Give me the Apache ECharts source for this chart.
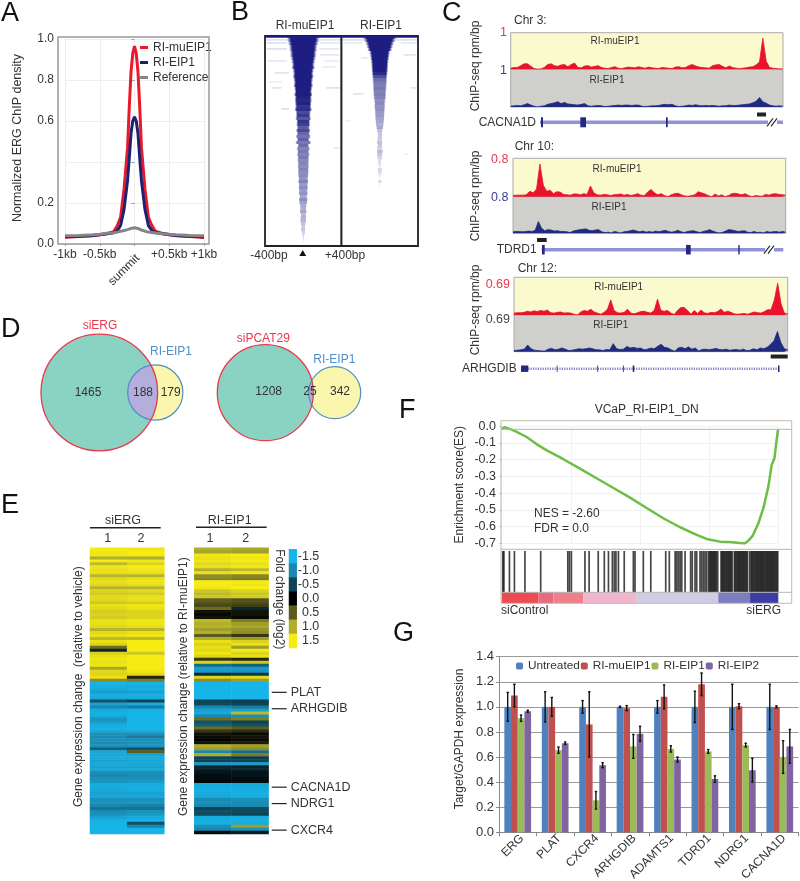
<!DOCTYPE html>
<html><head><meta charset="utf-8">
<style>html,body{margin:0;padding:0;background:#fff}#c{width:800px;height:881px;filter:blur(.35px)}</style>
<script src="https://cdn.jsdelivr.net/npm/echarts@6/dist/echarts.min.js"></script>
</head><body><div id="c"></div>
<script>
// ---------- Panel A
const aX=[-1,-.8,-.6,-.5,-.4,-.3,-.25,-.2,-.15,-.1,-.075,-.05,-.025,0,.025,.05,.075,.1,.15,.2,.25,.3,.4,.5,.6,.8,1];
const aMu=[.033,.036,.04,.045,.05,.06,.088,.13,.27,.47,.67,.84,.93,.965,.93,.84,.67,.47,.27,.13,.09,.062,.052,.046,.04,.036,.032];
const aEip=[.035,.038,.042,.045,.05,.055,.064,.09,.17,.31,.42,.54,.6,.62,.6,.54,.42,.31,.17,.09,.066,.056,.05,.045,.042,.038,.035];
const aRef=[.04,.042,.045,.048,.052,.055,.058,.062,.066,.07,.074,.076,.078,.079,.078,.076,.073,.068,.063,.058,.056,.054,.05,.047,.045,.042,.04];
const aYLabels=[0,.2,.6,.8,1];
const aXLabels={'-1':'-1kb','-0.5':'-0.5kb','0':'','0.5':'+0.5kb','1':'+1kb'};
// ---------- Panel B: per-row half width (bp) and density
const bMuHW=[172,168,160,150,148,140,140,132,126,120,124,112,108,112,104,100,104,96,92,98,90,92,88,86,92,80,78,84,72,74,68,76,70,80,66,84,60,72,64,70,62,64,60,62,58,60,56,52,56,50,52,48,50,42,48,46,36,34,38,30,32,34,26,22,24,18,14,8,4,2];
const bMuD=[1,1,1,1,1,1,1,1,1,1,1,1,1,1,1,1,1,1,1,1,.98,.95,.98,.9,.92,.8,.88,.75,.9,.85,.72,.8,.68,.62,.7,.6,.65,.55,.6,.55,.6,.52,.55,.5,.55,.5,.52,.48,.55,.45,.5,.45,.48,.4,.5,.42,.38,.36,.4,.32,.35,.32,.28,.25,.25,.2,.16,.14,.1,.08];
const bEipHW=[180,165,150,140,130,110,105,100,95,92,90,88,85,82,80,78,76,74,72,70,68,62,58,60,56,54,52,50,48,44,38,30,26,24,28,30,26,30,34,30,28,20,18,10,26,22,10,6,24,6,4];
const bEipD=[1,1,1,1,1,1,1,1,1,1,1,1,.95,.8,.65,.6,.58,.6,.55,.58,.55,.5,.52,.48,.5,.45,.45,.42,.4,.35,.4,.3,.25,.25,.22,.28,.25,.2,.3,.25,.2,.15,.15,.12,.18,.15,.12,.1,.14,.1,.08];
const bMuStray=[[0,-400,400,1],[1,-400,400,.12],[2,-380,-170,.13],[2,170,390,.1],[4,-380,-170,.14],[4,165,380,.1],[6,175,375,.1],[8,-370,-170,.1],[8,220,370,.09],[12,-300,-150,.12],[17,-325,-230,.13],[17,240,385,.13],[24,-230,-150,.14],[37,320,385,.1],[10,200,350,.08],[15,-360,-220,.07]];
const bEipStray=[[0,-400,400,1],[1,-400,400,.13],[2,-370,-180,.09],[2,220,390,.1],[6,250,375,.12],[7,-190,-110,.09],[17,320,390,.1],[19,-280,-170,.12],[28,-360,-300,.07],[39,260,290,.07]];
// ---------- Panel C tracks (fraction of the scale)
const t1Mu=[.03,.05,.05,.1,.15,.15,.08,.02,0,.01,.05,.13,.15,.1,.08,.12,.13,.07,.13,.17,.05,.04,.09,.1,.06,.08,.1,.05,.03,.02,.05,.07,.03,.02,.04,.06,.05,.04,.07,.05,.03,.06,.04,.03,.02,.05,.04,.03,.02,.06,.07,.04,.05,.1,.13,.09,.06,.05,.04,.03,.1,.12,.13,.08,.04,.09,.05,.03,.02,.03,.04,.06,.07,.12,.2,.85,.22,.05,.03,.02,.01,.01];
const t1Eip=[.02,.03,.04,.03,.06,.09,.05,.02,0,.02,.03,.07,.09,.11,.14,.09,.12,.08,.07,.06,.05,.07,.09,.03,.02,.03,.04,.03,.01,.02,.03,.04,.05,.04,.05,.05,.04,.05,.05,.02,.01,.02,.03,.03,.04,.06,.07,.06,.07,.03,.01,.02,.03,.05,.04,.06,.04,.03,.04,.03,.04,.03,.02,.03,.03,.05,.04,.04,.05,.06,.07,.08,.11,.15,.25,.14,.1,.05,.03,.02,.03,.02];
const t2Mu=[.03,.04,.04,.04,.05,.14,.1,.2,.85,.3,.14,.17,.08,.13,.12,.06,.05,.04,.07,.07,.05,.08,.06,.28,.1,.05,.04,.06,.05,.03,.05,.06,.07,.04,.06,.03,.05,.08,.04,.03,.12,.19,.1,.05,.08,.03,0,.05,.08,.09,.05,.02,.01,.03,.05,.13,.1,.07,.03,0,.07,.02,.05,0,.03,.08,.09,.07,.05,.08,.03,0,.03,.02,.01,.06,.04,.07,.08,.06,.05,.04];
const t2Eip=[.04,.05,.05,.04,.05,.06,.05,.08,.32,.14,.07,.1,.09,.06,.07,.05,.05,.04,.02,.06,.08,.1,.11,.12,.08,.07,.09,.1,.04,.02,.03,.01,.05,.03,.01,.04,.05,.07,.09,.06,.04,.06,.03,.05,.03,.06,.04,.06,.08,.05,.03,.05,.08,.04,.02,.05,.06,.07,.04,.02,.05,.07,.1,.06,.03,.01,.02,.06,.1,.09,.07,.05,.06,.07,.03,.02,.05,.02,.03,.01,.05,.03,.04,.05,.03,.05,.03];
const t3Mu=[.05,.06,.06,.07,.1,.08,.11,.09,.12,.1,.13,.06,.05,.07,.08,.05,.06,.05,.02,0,.08,.12,.1,.15,.08,.05,.02,.07,.15,.4,.12,.06,.05,.07,.15,.05,.03,.06,.09,.1,.07,.05,.12,.42,.12,.1,.12,.05,.01,.12,.2,.2,.12,.02,.12,.04,.13,.06,.04,.07,.06,.09,.16,.07,.1,.07,.03,.02,.03,.04,.02,.05,.08,.06,.05,.09,.14,.14,.4,.84,.3,.05,.03];
const t3Eip=[.03,.04,.05,.07,.18,.08,.04,.03,.02,.02,.07,.09,.05,.07,.1,.07,.03,.04,.06,.08,.07,.08,.1,.08,.05,.05,.03,.06,.05,.22,.08,.06,.07,.14,.1,.12,.09,.1,.05,.07,.1,.08,.15,.2,.12,.1,.05,.01,.1,.12,.08,.13,.07,.1,.02,.06,.07,.05,.07,.09,.06,.05,.07,.04,.05,.06,.04,.07,.03,.04,.08,.05,.1,.08,.12,.2,.3,.55,.25,.08,.05];
const geneLines=[[30,273],[31.7,273.3],[11,269]];
const geneExons=[[[31,33],[70.3,76],[156,157.7]],[[32,34.7],[176,180.7],[228.3,229.7]],[[11,18.3],[46.7,47.5],[87.3,88.1],[113,113.8],[122.7,124.3],[268,269.5]]];
const geneNames=['CACNA1D','TDRD1','ARHGDIB'];
// ---------- Panel D
const vennA=[1465,188,179];
const vennB=[1208,25,342];
// ---------- Panel E
const eL1=[1.5,1.45,1.45,1.0,1.5,1.1,1.45,1.4,1.4,1.05,1.35,1.4,1.35,1.05,1.3,1.25,1.35,1.35,1.2,1.4,1.35,1.25,1.3,1.25,1.4,1.4,1.35,1.05,1.35,1.4,1.1,1.4,1.3,.6,-.3,1.3,1.4,1.45,1.4,1.45,.95,1.35,1.3,1.4,.8,-1.5,-1.45,-1.4,-1.25,-1.45,-1.4,-.6,-1.3,-1.0,-1.4,-1.45,-1.4,-1.15,-1.2,-1.4,-1.45,-1.35,-1.1,-1.05,-1.1,-1.05,-1.1,-.7,-1.35,-1.35,-1.4,-1.3,-1.35,-1.3,-1.35,-1.1,-1.0,-1.1,-1.15,-1.4,-1.4,-1.35,-1.3,-1.35,-1.1,-1.15,-1.0,-.85,-1.05,-1.1,-1.3,-1.45,-1.5,-1.5,-1.5,-1.5];
const eL2=[1.45,1.5,1.5,1.0,1.45,1.3,1.5,1.45,1.4,1.05,1.4,1.45,1.4,1.05,1.35,1.25,1.4,1.4,1.25,1.45,1.4,1.3,1.3,1.3,1.45,1.45,1.4,1.05,1.4,1.45,1.1,1.5,1.5,1.5,1.5,1.2,1.5,1.5,1.5,1.5,1.5,1.45,1.35,.2,.7,-1.5,-1.4,-1.45,-1.3,-1.45,-1.4,-.5,-1.4,-.9,-1.45,-1.5,-1.5,-1.5,-1.5,-1.5,-1.5,-1.4,-1.1,-.9,-1.1,-1.1,-1.15,-.6,.5,-1.3,-1.4,-1.35,-1.35,-1.3,-1.35,-1.1,-1.05,-1.1,-1.2,-1.4,-1.45,-1.4,-1.3,-1.35,-1.1,-1.15,-.95,-.85,-1.1,-1.2,-1.4,-1.5,-.6,-1.0,-1.5,-1.5];
const eR1=[1.0,.95,1.45,1.4,1.45,1.35,1.4,1.0,1.4,.8,.75,1.5,1.5,1.45,1.2,1.1,1.2,.5,.45,.4,.6,.1,.05,.1,1.1,1.0,1.05,.9,1.0,.5,1.0,1.4,1.3,1.4,1.35,1.45,1.3,.3,1.3,-.8,-1.25,-1.2,-.3,1.3,.8,-1.5,-1.5,-1.5,-1.5,-1.5,-1.5,-.5,-.55,-1.0,-1.3,-1.35,-1.0,.6,-.6,-.7,.6,.3,.1,.05,0,.1,1.0,.9,-1.0,1.0,-.5,-.5,-1.2,-.3,-.2,-.15,-.1,-.1,-.05,-1.4,-1.4,-1.45,-1.4,-1.35,-1.05,-1.1,-1.0,-.5,-.6,-.55,-1.4,-1.4,-1.45,-1.1,-1.0,-.1];
const eR2=[.95,.9,1.5,1.45,1.5,1.4,1.45,1.1,1.45,.75,.7,1.5,1.45,1.5,1.3,1.2,1.25,.45,.4,.35,-.3,.1,.1,.05,.7,.9,.95,.85,.8,.3,.9,1.3,1.4,.9,1.5,1.3,1.4,.2,1.2,-.7,-1.2,-1.15,-.4,1.35,.9,-1.5,-1.5,-1.5,-1.5,-1.5,-1.5,-.45,-.5,-.9,-1.25,1.1,-1.1,.7,-.5,-.6,.5,.25,.05,.1,.05,.15,.9,.8,-.8,.7,-.45,-.5,-1.25,-.25,-.25,-.15,-.15,-.1,-.1,-1.35,-1.4,-1.4,-1.45,-1.4,-1.1,-1.05,-1.05,-.55,-.55,-.5,-1.4,-1.45,-1.4,.9,-1.1,-.2];
const eLevels=[-1.5,-1,-.5,0,.5,1,1.5];
const eGenes=[['PLAT',48.5],['ARHGDIB',54],['CACNA1D',80.3],['NDRG1',85.8],['CXCR4',94.7]];
// ---------- Panel F
const fRank=[0,8,18,36,54,90,127,163,223,283,343,404,464,524,584,645,705,741,789,825,861,880,892,907,928,946,964,976,986,994,999];
const fES=[-.018,-.006,-.01,-.02,-.034,-.064,-.108,-.144,-.197,-.253,-.311,-.369,-.427,-.489,-.55,-.604,-.65,-.674,-.69,-.692,-.698,-.70,-.684,-.656,-.58,-.49,-.361,-.231,-.191,-.082,-.018];
const fHits=[4,8,28,46,84,141,239,245,252,301,316,349,371,386,400,407,413,422,443,476,482,512,539,593,606,627,633,639,645,651,663,683,689,699,705,717,723,729,735,741,748,752,756,760,764,768,772,776,781,793,797,801,805,809,813,817,821,825,829,833,841,845,849,853,857,861,865,869,873,877,881,885,889,897,902,906,910,914,918,922,926,930,934,938,942,946,950,954,958,962,966,970,974,978,982,986,990,994,998];
const fStripEdges=[0,133,187,295,488,783,898,1000];
// ---------- Panel G
const gCats=['ERG','PLAT','CXCR4','ARHGDIB','ADAMTS1','TDRD1','NDRG1','CACNA1D'];
const gUntreated=[1,1,1,1,1,1,1,1];
const gMu=[1.09,1,.86,.99,1.08,1.18,1.005,1];
const gEip1=[.91,.655,.255,.685,.665,.645,.695,.6];
const gEip2=[.965,.71,.535,.785,.58,.425,.495,.685];
const gErrU=[.115,.12,.05,.005,.05,.125,.18,.18];
const gErrM=[.09,.075,.26,.02,.095,.09,.02,.008];
const gErrE1=[.025,.025,.07,.095,.025,.015,.015,.13];
const gErrE2=[.008,.01,.02,.06,.02,.025,.095,.135];

// ---------- helpers
const FF='"Liberation Sans",Arial,sans-serif', TXT='#333';
const grids=[],xAxes=[],yAxes=[],series=[],graphics=[];
function addGrid(g,x,y){const i=grids.length;grids.push(Object.assign({containLabel:false,outerBoundsMode:'none'},g));
 xAxes.push(Object.assign({gridIndex:i,show:false},x));yAxes.push(Object.assign({gridIndex:i,show:false},y));return i;}
function T(x,y,text,o){o=o||{};const a=o.align||'center';
 graphics.push({type:'text',x:x,y:y,rotation:o.rot||0,z:100,silent:true,style:{text:String(text),fontFamily:FF,fontSize:o.size||12,fill:o.color||TXT,align:a,verticalAlign:'middle',textAlign:a,textVerticalAlign:'middle',fontWeight:o.weight||'normal'}});}
function box(x,y,w,h,stroke,lw,fill){graphics.push({type:'rect',silent:true,z:fill?50:60,shape:{x:x,y:y,width:w,height:h},style:{fill:fill||'none',stroke:stroke||'none',lineWidth:lw||0}});}
function seg(x1,y1,x2,y2,c,lw){graphics.push({type:'line',silent:true,z:60,shape:{x1:x1,y1:y1,x2:x2,y2:y2},style:{stroke:c,lineWidth:lw||1}});}
const zip=(a,b)=>a.map((v,i)=>[v,b[i]]);

// panel letters
[['A',1,14],['B',231,13],['C',442,14],['D',1,330],['E',1,505.5],['F',399,410.5],['G',393,634]].forEach(p=>T(p[1],p[2],p[0],{size:27,color:'#111',align:'left'}));

// ---------- A
{
 const i=addGrid({left:65,width:139,top:39,height:205},
  {show:true,type:'value',min:-1,max:1,interval:.5,axisLine:{show:false},axisTick:{show:true,length:2,lineStyle:{color:'#999'}},
   axisLabel:{margin:5,fontSize:12,fontFamily:FF,color:TXT,hideOverlap:false,showMinLabel:true,showMaxLabel:true,formatter:v=>aXLabels[String(v)]||''},splitLine:{show:true,lineStyle:{color:'#eeeeee'}}},
  {show:true,type:'value',min:0,max:1,interval:.2,axisLine:{show:false},axisTick:{show:true,length:3,lineStyle:{color:'#999'}},
   axisLabel:{margin:11,fontSize:12,fontFamily:FF,color:TXT,customValues:aYLabels,formatter:v=>v.toFixed(1)},splitLine:{show:true,lineStyle:{color:'#eeeeee'}},
   name:'Normalized ERG ChIP density',nameLocation:'middle',nameGap:41,nameTextStyle:{fontSize:12.5,fontFamily:FF,color:TXT,padding:[0,0,0,7]}});
 [['RI-muEIP1 ',aMu,'#E8192C'],['RI-EIP1 ',aEip,'#1B2270'],['Reference',aRef,'#858585']].forEach(s=>series.push({name:s[0],type:'line',xAxisIndex:i,yAxisIndex:i,data:zip(aX,s[1]),showSymbol:false,symbol:'none',smooth:false,lineStyle:{width:3,color:s[2]},itemStyle:{color:s[2]},clip:false}));
 box(58,37,151,207,'#999',1.5);
 T(124,270,'summit',{rot:Math.PI/4});
}
// ---------- B
function bPanel(left,hw,den,stray){
 const i=addGrid({show:true,left:left,width:76.5,top:36,height:210,borderColor:'#222',borderWidth:1.8,backgroundColor:'#fff'},
  {type:'value',min:-400,max:400},{type:'value',min:0,max:70,inverse:true});
 const C='30,30,130';
 series.push({type:'custom',xAxisIndex:i,yAxisIndex:i,silent:true,data:stray,clip:true,renderItem:(p,api)=>{
  const a=api.coord([api.value(1),api.value(0)]),b=api.coord([api.value(2),api.value(0)+.6]);
  return {type:'rect',shape:{x:a[0],y:a[1],width:b[0]-a[0],height:b[1]-a[1]},style:{fill:`rgba(${C},${api.value(3)})`}};}});
 series.push({type:'custom',xAxisIndex:i,yAxisIndex:i,silent:true,clip:true,data:hw.map((h,r)=>[r,h,den[r]]),renderItem:(p,api)=>{
  const r=api.value(0),h=api.value(1),d=api.value(2),a=api.coord([-h,r]),b=api.coord([h,r+1]);
  return {type:'rect',shape:{x:a[0],y:a[1],width:b[0]-a[0],height:b[1]-a[1]},style:{fill:{type:'linear',x:0,y:0,x2:1,y2:0,colorStops:[{offset:0,color:`rgba(${C},0)`},{offset:.12,color:`rgba(${C},${d})`},{offset:.88,color:`rgba(${C},${d})`},{offset:1,color:`rgba(${C},0)`}]}}};}});
}
bPanel(265,bMuHW,bMuD,bMuStray);
bPanel(341.5,bEipHW,bEipD,bEipStray);
T(305,26,'RI-muEIP1');T(381,26,'RI-EIP1');T(269,256,'-400bp');T(345,256,'+400bp');
graphics.push({type:'polygon',silent:true,z:60,shape:{points:[[302.7,250],[299.3,256],[306.2,256]]},style:{fill:'#111'}});
// ---------- C
function track(left,width,topA,hA,topB,hB,mu,eip){
 const a=addGrid({show:true,left:left,width:width,top:topA,height:hA,backgroundColor:'#FBF9CE',borderColor:'#aaa',borderWidth:1},{type:'value',min:0,max:mu.length-1},{type:'value',min:0,max:1});
 series.push({type:'line',xAxisIndex:a,yAxisIndex:a,data:mu.map((v,i)=>[i,v]),symbol:'none',lineStyle:{width:.8,color:'#E8142B'},areaStyle:{color:'#E8142B',opacity:1}});
 const b=addGrid({show:true,left:left,width:width,top:topB,height:hB,backgroundColor:'#CFCFCB',borderColor:'#aaa',borderWidth:1},{type:'value',min:0,max:eip.length-1},{type:'value',min:0,max:1});
 series.push({type:'line',xAxisIndex:b,yAxisIndex:b,data:eip.map((v,i)=>[i,v]),symbol:'none',lineStyle:{width:.8,color:'#1F2A80'},areaStyle:{color:'#1F2A80',opacity:1}});
}
track(510.7,272.3,32.7,36.6,69.3,37.7,t1Mu,t1Eip);
track(513,272.7,158.3,38.4,196.7,36.6,t2Mu,t2Eip);
track(514,273.7,277.3,37.7,315,36.7,t3Mu,t3Eip);
[[476,66],[476,196],[476,310]].forEach(p=>T(p[0],p[1],'ChIP-seq rpm/bp',{rot:Math.PI/2,size:12}));
T(514,20.7,'Chr 3:',{align:'left'});T(514.7,147,'Chr 10:',{align:'left'});T(517.7,269,'Chr 12:',{align:'left'});
T(615,41.7,'RI-muEIP1',{size:10,align:'center'});T(607,80,'RI-EIP1',{size:10});
T(617,169,'RI-muEIP1',{size:10});T(609,207.3,'RI-EIP1',{size:10});
T(618.7,287.7,'RI-muEIP1',{size:10});T(610.7,325.7,'RI-EIP1',{size:10});
T(507,32.5,'1',{align:'right',color:'#E8394A',size:12.5});T(507,70.7,'1',{align:'right',color:'#3A3F95',size:12.5});
T(508.5,160,'0.8',{align:'right',color:'#E8394A',size:12.5});T(508.5,197.7,'0.8',{align:'right',color:'#3A3F95',size:12.5});
T(510,284.7,'0.69',{align:'right',color:'#E8394A',size:12.5});T(510,320,'0.69',{align:'right',color:'#444',size:12.5});
box(757,112.5,9,4,'none',0,'#222');box(537,238,9.7,4,'none',0,'#222');box(770.7,354.5,17,4,'none',0,'#222');
function gene(idx,yc,hh,lw,lc,labelRight,dash){
 const i=addGrid({left:510,width:280,top:yc-8,height:16},{type:'value',min:0,max:280},{type:'value',min:-8,max:8});
 series.push({type:'custom',xAxisIndex:i,yAxisIndex:i,silent:true,data:[geneLines[idx]],renderItem:(p,api)=>{const a=api.coord([api.value(0),0]),b=api.coord([api.value(1),0]);return {type:'line',shape:{x1:a[0],y1:a[1],x2:b[0],y2:b[1]},style:{stroke:lc,lineWidth:lw,lineDash:dash||null}};}});
 series.push({type:'custom',xAxisIndex:i,yAxisIndex:i,silent:true,data:geneExons[idx],renderItem:(p,api)=>{const a=api.coord([api.value(0),hh]),b=api.coord([api.value(1),-hh]);return {type:'rect',shape:{x:a[0],y:a[1],width:b[0]-a[0],height:b[1]-a[1]},style:{fill:'#25287F'}};}});
 T(labelRight,yc,geneNames[idx],{align:'right',size:12});
}
gene(0,122.3,5,3.5,'#8F93D6',536);
gene(1,249.7,4.8,3.5,'#8F93D6',536.7);
gene(2,368.7,3.2,2.5,'#7F83CC',516.7,[1.2,1.2]);
function slashes(x,y){box(x,y-3,9,6,'none',0,'#fff');seg(x-1,y+4,x+5,y-4,'#222',1.1);seg(x+3,y+4,x+9,y-4,'#222',1.1);}
slashes(768,122.3);slashes(765,249.7);
// ---------- D
function venn(x1,r1,x2,r2,y){
 const d=x2-x1,a=(d*d+r1*r1-r2*r2)/(2*d),h=Math.sqrt(r1*r1-a*a),px=x1+a;
 const circ=(x,r,f,s,lw)=>graphics.push({type:'circle',silent:true,z:55,shape:{cx:x,cy:y,r:r},style:{fill:f,stroke:s,lineWidth:lw}});
 circ(x2,r2,'#FBF6AE','none',0);
 circ(x1,r1,'#8AD3C3','none',0);
 const pts=[],t1=Math.atan2(h,a),t2=Math.atan2(h,x2-px);
 for(let k=-24;k<=24;k++){const t=t1*k/24;pts.push([x1+r1*Math.cos(t),y+r1*Math.sin(t)]);}
 for(let k=24;k>=-24;k--){const t=t2*k/24;pts.push([x2-r2*Math.cos(t),y+r2*Math.sin(t)]);}
 graphics.push({type:'polygon',silent:true,z:55,shape:{points:pts},style:{fill:'#B3AEDB'}});
 circ(x2,r2,'none','#4F8FC6',1.2);
 circ(x1,r1,'none','#E8394A',1.3);
}
venn(99.3,58.3,155.3,27.6,392.5);
venn(265.3,48,334.7,26,392.7);
T(88,392.7,vennA[0]);T(143,392.7,vennA[1]);T(170.7,392.7,vennA[2]);
T(268.7,391.7,vennB[0]);T(310,391.7,vennB[1]);T(340,391.7,vennB[2]);
T(100,325.7,'siERG',{color:'#E8394A',size:12});T(171,352,'RI-EIP1',{color:'#4F8FC6',size:12});
T(263.3,338.3,'siPCAT29',{color:'#E8394A',size:12});T(334.3,359.7,'RI-EIP1',{color:'#4F8FC6',size:12});
// ---------- E
const rows=eL1.map((_,i)=>i), hmSeries=[];
function heat(left,c1,c2){
 const i=addGrid({left:left,width:74.3,top:547.7,height:286.3},{type:'category',data:[0,1]},{type:'category',data:rows,inverse:true});
 const d=[];c1.forEach((v,r)=>{d.push([0,r,v]);d.push([1,r,c2[r]]);});
 hmSeries.push(series.length);
 series.push({type:'heatmap',xAxisIndex:i,yAxisIndex:i,data:d,silent:true,itemStyle:{borderWidth:0}});
}
heat(90,eL1,eL2);heat(194.3,eR1,eR2);
{
 const i=addGrid({left:289,width:7.7,top:549.3,height:98.7},{type:'category',data:[0]},
  {show:true,type:'category',data:eLevels.map(v=>v.toFixed(1)),inverse:true,position:'right',axisLine:{show:false},axisTick:{show:false},axisLabel:{margin:22.6,align:'right',fontSize:12.5,fontFamily:FF,color:TXT,interval:0}});
 hmSeries.push(series.length);
 series.push({type:'heatmap',xAxisIndex:i,yAxisIndex:i,silent:true,data:eLevels.map((v,r)=>[0,r,v])});
}
T(123,520.7,'siERG',{size:12.5});seg(90,527.7,160.7,527.7,'#222',1.4);T(107.7,538.7,'1',{size:12.5});T(141,538.7,'2',{size:12.5});
T(229.7,520.3,'RI-EIP1',{size:12.5});seg(196,527.3,266.7,527.3,'#222',1.4);T(210,538.7,'1',{size:12.5});T(245.7,538.7,'2',{size:12.5});
T(78.3,686.7,'Gene expression change  (relative to vehicle)',{rot:Math.PI/2,size:12});
T(184,686.7,'Gene expression change (relative to RI-muEIP1)',{rot:Math.PI/2,size:12});
T(279.3,599.3,'Fold change (log2)',{rot:-Math.PI/2,size:12});
eGenes.forEach(g=>{const y=547.7+g[1]*286.3/96;seg(271.7,y,286.7,y,'#222',1.2);T(290.7,y,g[0],{align:'left',size:12.5});});
// ---------- F
{
 const i=addGrid({left:501.7,width:276.6,top:426.3,height:117},
  {show:true,type:'value',min:0,max:1000,interval:250,axisLine:{show:false},axisTick:{show:false},axisLabel:{show:false},splitLine:{show:true,lineStyle:{color:'#f1f1f1'}}},
  {show:true,type:'value',min:-.7,max:0,interval:.1,axisLine:{show:false},axisTick:{show:true,length:2,lineStyle:{color:'#aaa'}},
   axisLabel:{margin:5.7,fontSize:12.5,fontFamily:FF,color:TXT,formatter:v=>v.toFixed(1)},splitLine:{show:true,lineStyle:{color:'#f1f1f1'}},
   name:'Enrichment score(ES)',nameLocation:'middle',nameGap:36,nameTextStyle:{fontSize:12,fontFamily:FF,color:TXT}});
 series.push({type:'line',xAxisIndex:i,yAxisIndex:i,data:zip(fRank,fES),symbol:'none',clip:false,z:5,lineStyle:{width:2.5,color:'#6CBE45'}});
 const h=addGrid({left:501.7,width:276.6,top:551,height:41.3},{type:'value',min:0,max:1000},{type:'value',min:0,max:1});
 series.push({type:'custom',xAxisIndex:h,yAxisIndex:h,silent:true,data:fHits.map(v=>[v]),renderItem:(p,api)=>{const a=api.coord([api.value(0),1]),b=api.coord([api.value(0),0]);return {type:'line',shape:{x1:a[0],y1:a[1],x2:b[0],y2:b[1]},style:{stroke:'#000',lineWidth:1.7,opacity:.72}};}});
 const stripColors=['#EF4A52','#E9697E','#EF7F8B','#F3B4CE','#CFCDE6','#7C7CC0','#3C3CA2'];
 const s=addGrid({left:501.7,width:276.6,top:592.3,height:11},{type:'value',min:0,max:1000},{type:'value',min:0,max:1});
 series.push({type:'custom',xAxisIndex:s,yAxisIndex:s,silent:true,data:fStripEdges.slice(0,-1).map((v,k)=>[v,fStripEdges[k+1],k]),renderItem:(p,api)=>{const a=api.coord([api.value(0),1]),b=api.coord([api.value(1),0]);return {type:'rect',shape:{x:a[0],y:a[1],width:b[0]-a[0],height:b[1]-a[1]},style:{fill:stripColors[api.value(2)]}};}});
 box(501,420.7,290.7,182.6,'#bdbdae',1);
 seg(501,429.3,791.7,429.3,'#b5b5b5',1);seg(501,549.3,791.7,549.3,'#b5b5b5',1);seg(501,592.3,791.7,592.3,'#b5b5b5',1);
 T(646.7,410,'VCaP_RI-EIP1_DN',{size:12});
 T(534,513.7,'NES = -2.60',{align:'left',size:12});T(534,529,'FDR = 0.0',{align:'left',size:12});
 T(501,611,'siControl',{align:'left',size:12});T(781,611,'siERG',{align:'right',size:12});
}
// ---------- G
{
 const i=addGrid({left:499,width:299.5,top:656.7,height:175.6},
  {show:true,type:'category',data:gCats,axisLine:{lineStyle:{color:'#888',width:1}},axisTick:{show:true,length:4,lineStyle:{color:'#888'}},axisLabel:{rotate:45,interval:0,margin:0,verticalAlign:'top',fontSize:12,fontFamily:FF,color:TXT}},
  {show:true,type:'value',min:0,max:1.4,interval:.2,axisLine:{show:true,lineStyle:{color:'#888'}},axisTick:{show:true,length:3,lineStyle:{color:'#888'}},
   axisLabel:{margin:5,fontSize:13,fontFamily:FF,color:TXT,formatter:v=>v.toFixed(1)},splitLine:{show:true,lineStyle:{color:'#999',width:1}},
   name:'Target/GAPDH expression',nameLocation:'middle',nameGap:33,nameTextStyle:{fontSize:12,fontFamily:FF,color:TXT,padding:[0,0,0,11]}});
 const names=['Untreated','RI-muEIP1','RI-EIP1','RI-EIP2'],vals=[gUntreated,gMu,gEip1,gEip2],errs=[gErrU,gErrM,gErrE1,gErrE2],cols=['#4F81BD','#C0504D','#9BBB59','#8064A2'];
 names.forEach((n,k)=>series.push({name:n,type:'bar',xAxisIndex:i,yAxisIndex:i,data:vals[k],barGap:0,barCategoryGap:'28.6%',itemStyle:{color:cols[k]}}));
 const ed=[];vals.forEach((v,k)=>v.forEach((x,c)=>ed.push([c,x,errs[k][c],k])));
 series.push({type:'custom',xAxisIndex:i,yAxisIndex:i,silent:true,z:6,data:ed,renderItem:(p,api)=>{
  const c=api.value(0),v=api.value(1),e=api.value(2),k=api.value(3),bw=api.size([1,0])[0]*(1-.286)/4,off=(k-1.5)*bw,
  t=api.coord([c,v+e]),b=api.coord([c,v-e]),x=t[0]+off,S={stroke:'#111',lineWidth:1.4};
  return {type:'group',children:[{type:'line',shape:{x1:x,y1:t[1],x2:x,y2:b[1]},style:S},{type:'line',shape:{x1:x-1.2,y1:t[1],x2:x+1.2,y2:t[1]},style:S},{type:'line',shape:{x1:x-1.2,y1:b[1],x2:x+1.2,y2:b[1]},style:S}]};}});
}

const chart=echarts.init(document.getElementById('c'),null,{renderer:'canvas',width:800,height:881});
chart.setOption({animation:false,backgroundColor:'#fff',tooltip:{show:false},
 grid:grids,xAxis:xAxes,yAxis:yAxes,series:series,graphic:{elements:graphics},
 visualMap:{show:false,type:'continuous',seriesIndex:hmSeries,dimension:2,min:-1.5,max:1.5,inRange:{color:['#17B4E9','#1A88AE','#0E4355','#000000','#5C5C1C','#B0AE2C','#F7EC12']}},
 legend:[
  {orient:'vertical',left:140,top:41.5,padding:0,icon:'rect',itemWidth:8,itemHeight:3,itemGap:3,selectedMode:false,data:['RI-muEIP1 ','RI-EIP1 ','Reference'],formatter:n=>n.trim(),textStyle:{fontSize:12,fontFamily:FF,color:TXT}},
  {orient:'horizontal',left:516,top:660,padding:0,itemWidth:7,itemHeight:7,itemGap:1,selectedMode:false,data:['Untreated','RI-muEIP1','RI-EIP1','RI-EIP2'],textStyle:{fontSize:11.8,fontFamily:FF,color:TXT}}
 ]});
</script></body></html>
